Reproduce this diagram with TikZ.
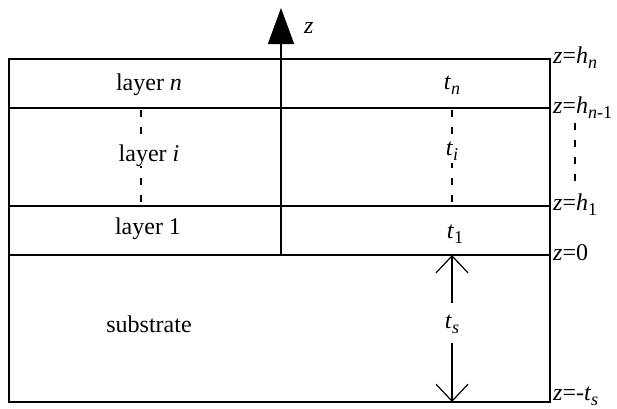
\documentclass[tikz,border=0pt]{standalone}
\usepackage{fontspec}
\setmainfont{Liberation Serif}
\usetikzlibrary{arrows.meta}
\newcommand{\subsc}[1]{\raisebox{-5pt}{\fontsize{18}{20}\selectfont #1}}
\begin{document}
\begin{tikzpicture}[x=1pt,y=-1pt,
  bline/.style={line width=1.4pt},
  lbl/.style={font=\fontsize{24}{28}\selectfont, inner sep=0pt, anchor=base},
  zlbl/.style={font=\fontsize{24}{28}\selectfont, inner sep=0pt, anchor=base west},
  dsh/.style={line width=1.2pt, dash pattern=on 7pt off 10pt},
  barb/.style={line width=1.2pt, -{Straight Barb[length=17pt,width=32pt,line width=1.2pt]}}
]
\useasboundingbox (0,0) rectangle (617,408);
% layer boundaries
\coordinate (TL) at (9,59);
\coordinate (TR) at (550,59);
\coordinate (BL) at (9,402);
\coordinate (BR) at (550,402);
\coordinate (AL) at (9,108);
\coordinate (AR) at (550,108);
\coordinate (CL) at (9,206);
\coordinate (CR) at (550,206);
\coordinate (DL) at (9,255);
\coordinate (DR) at (550,255);
% dashed continuation lines
\coordinate (la) at (141,110);
\coordinate (lb) at (141,205);
\draw[dsh] (la) -- (lb);
\coordinate (ra) at (452,110);
\coordinate (rb) at (452,202);
\draw[dsh] (ra) -- (rb);
\coordinate (sa) at (575,123);
\coordinate (sb) at (575,188);
\draw[dsh] (sa) -- (sb);
\draw[bline] (TL) -- (TR) -- (BR) -- (BL) -- cycle;
\draw[bline] (AL) -- (AR);
\draw[bline] (CL) -- (CR);
\draw[bline] (DL) -- (DR);
% z axis
\coordinate (z0) at (281,255);
\coordinate (ztop) at (281,8);
\draw[line width=1.5pt, -{Triangle[length=36pt,width=26pt]}] (z0) -- (ztop);
\node[lbl, anchor=base west, font=\fontsize{24}{28}\selectfont\itshape] (zl) at (304,33) {z};
% layer labels
\node[lbl] (ln) at (149,90) {layer \textit{n}};
\node[lbl, fill=white] (li) at (149,161) {layer \textit{i}};
\node[lbl] (l1) at (148,234) {layer 1};
\node[lbl] (sub) at (149,332) {substrate};
\node[lbl] (tn) at (452,89) {\textit{t}\subsc{\textit{n}}};
\node[lbl, fill=white, inner ysep=3pt] (ti) at (452,155) {\textit{t}\subsc{\textit{i}}};
\node[lbl] (t1) at (455,238) {\textit{t}\subsc{1}};
% substrate thickness
\node[lbl] (ts) at (452,328) {\textit{t}\subsc{\textit{s}}};
\coordinate (tsa) at (452,303);
\coordinate (tsb) at (452,343);
\coordinate (tstop) at (452,255);
\coordinate (tsbot) at (452,402);
\draw[barb] (tsa) -- (tstop);
\draw[barb] (tsb) -- (tsbot);
% right labels
\node[zlbl] (zhn) at (553,63) {\textit{z}=\textit{h}\subsc{\textit{n}}};
\node[zlbl] (zhn1) at (553,113) {\textit{z}=\textit{h}\subsc{\textit{n}-1}};
\node[zlbl] (zh1) at (553,210) {\textit{z}=\textit{h}\subsc{1}};
\node[zlbl] (z0l) at (553,260) {\textit{z}=0};
\node[zlbl] (zts) at (553,400) {\textit{z}=-\textit{t}\subsc{\textit{s}}};
\end{tikzpicture}
\end{document}
